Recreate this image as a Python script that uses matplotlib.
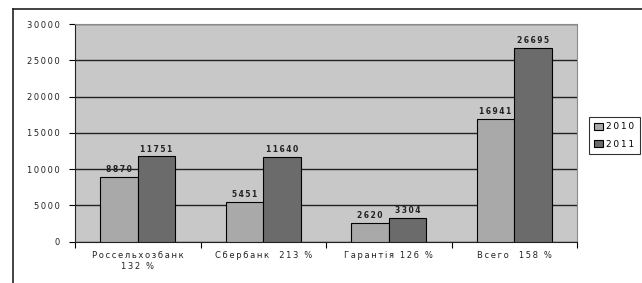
import numpy as np
import matplotlib.pyplot as plt
from matplotlib.lines import Line2D

banky = ['Россельхозбанк\n132 %', 'Сбербанк  213 %', 'Гарантія 126 %', 'Всего  158 %']
roky = ['2010', '2011']
hodnoty_2010 = [8870, 5451, 2620, 16941]
hodnoty_2011 = [11751, 11640, 3304, 26695]
y_ticky = [0, 5000, 10000, 15000, 20000, 25000, 30000]


def roztiahni(s):
  # riedke pismo ako v povodnom grafe
  return '\n'.join('\u2009'.join(r) for r in s.split('\n'))


W, H = 642, 283
fig = plt.figure(figsize=(W/100, H/100), dpi=100)
fig.patch.set_facecolor('white')

# ramcek grafu (vidno iba hornu a lavu hranu)
fig.add_artist(Line2D([13/W, 1], [1-9/H, 1-9/H], color='#222222', linewidth=1.2))
fig.add_artist(Line2D([13/W, 13/W], [0, 1-9/H], color='#222222', linewidth=1.2))

ax = fig.add_axes([75/W, 1-241.7/H, (577-75)/W, (241.7-24)/H])
ax.set_facecolor('#c8c8c8')

x = np.arange(len(banky))
sirka = 0.3
b1 = ax.bar(x - sirka/2, hodnoty_2010, sirka, color='#a9a9a9', edgecolor='black', linewidth=0.8, label=roky[0], zorder=3)
b2 = ax.bar(x + sirka/2, hodnoty_2011, sirka, color='#6b6b6b', edgecolor='black', linewidth=0.8, label=roky[1], zorder=3)

for bars, vals in [(b1, hodnoty_2010), (b2, hodnoty_2011)]:
  for b, v in zip(bars, vals):
    ax.text(b.get_x() + b.get_width()/2, v + 400, roztiahni(str(v)),
            ha='center', va='bottom', fontsize=5.5, fontweight='bold', color='#222222', zorder=4)

ax.set_ylim(0, 30000)
ax.set_xlim(-0.5, len(banky) - 0.5)
ax.set_yticks(y_ticky)
ax.set_yticklabels([roztiahni(str(v)) for v in y_ticky], fontsize=6, color='#222222')
ax.yaxis.grid(True, color='#222222', linewidth=1.0, zorder=1)
ax.set_axisbelow(True)

ax.set_xticks(np.arange(len(banky) + 1) - 0.5)
ax.set_xticklabels([])
ax.set_xticks(x, minor=True)
ax.set_xticklabels([roztiahni(b) for b in banky], minor=True, fontsize=6, color='#222222')
ax.tick_params(axis='x', which='minor', length=0, pad=7)
ax.tick_params(axis='x', which='major', length=4, direction='out')
ax.tick_params(axis='y', length=4, direction='out', pad=7)

for s in ['top', 'right']:
  ax.spines[s].set_color('#8a8a8a')
  ax.spines[s].set_linewidth(0.8)
ax.spines['left'].set_color('#222222')
ax.spines['bottom'].set_color('#222222')

leg = fig.legend(handles=[b1, b2], labels=[roztiahni(r) for r in roky], loc='upper left',
                 bbox_to_anchor=(589/W, 1-117/H), fontsize=6.5, frameon=True,
                 fancybox=False, edgecolor='black', handlelength=1.0, handleheight=0.8,
                 handletextpad=0.3, borderpad=0.6, labelspacing=0.9, borderaxespad=0)
leg.get_frame().set_linewidth(0.8)

plt.savefig('out.png', dpi=100)
